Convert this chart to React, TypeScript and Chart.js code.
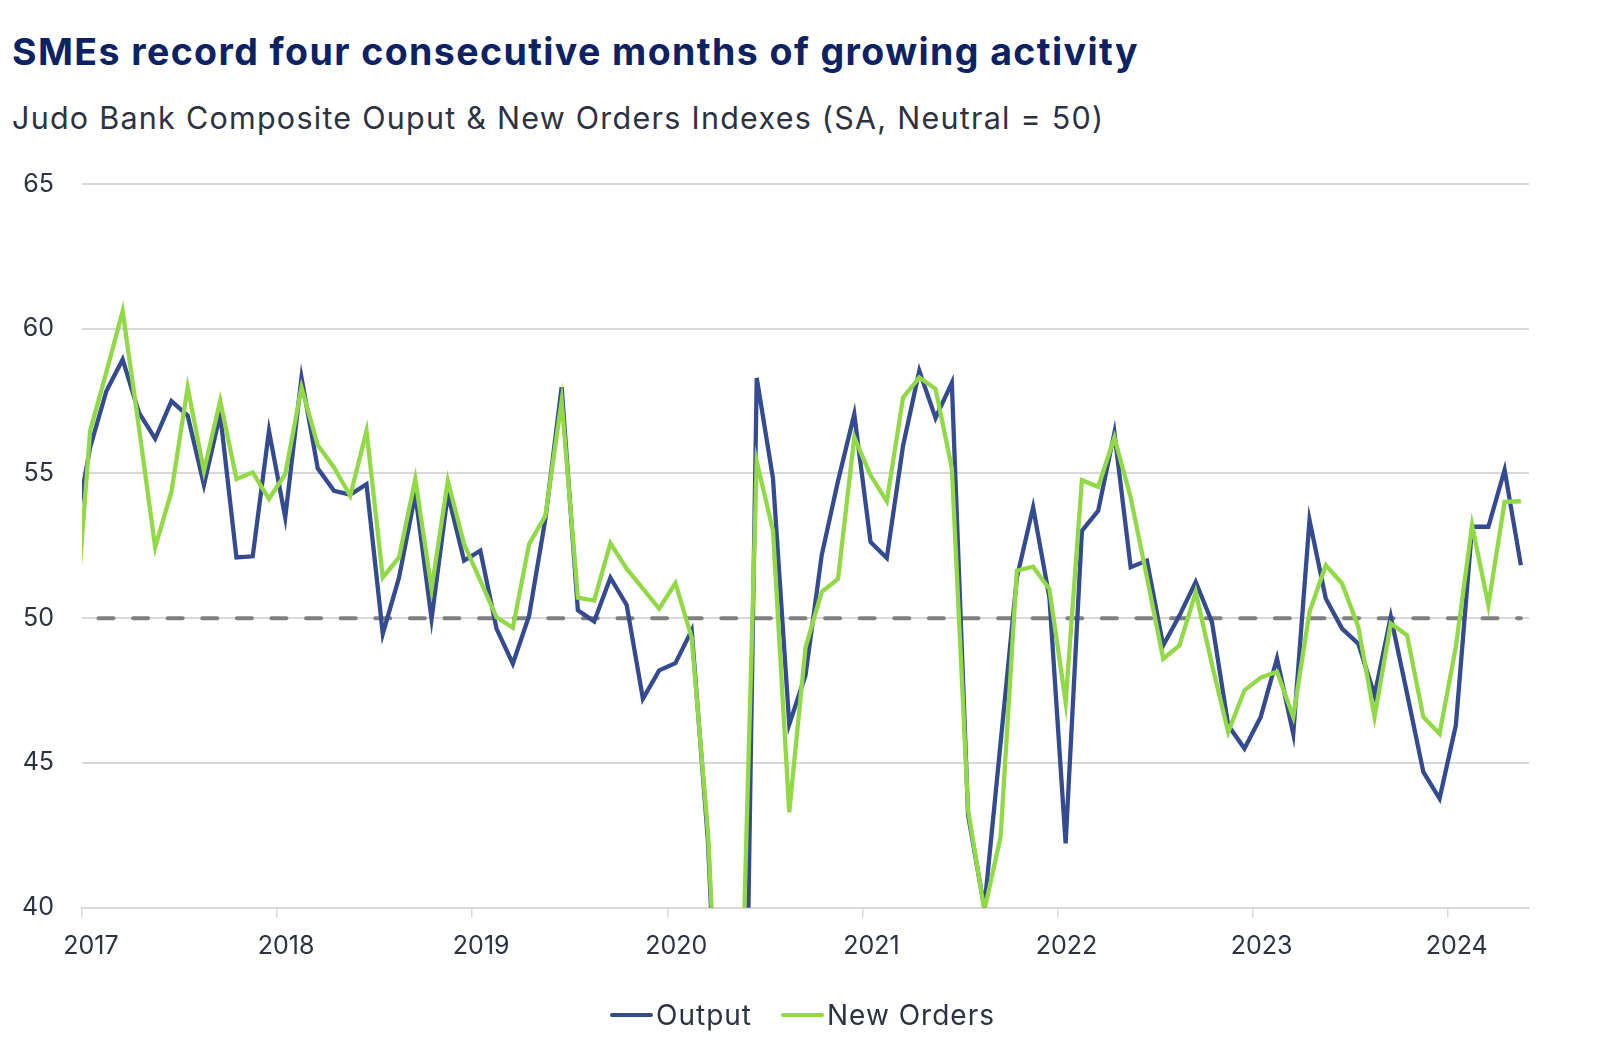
import React, { useEffect, useRef } from "react";
import { Chart, registerables } from "chart.js";

Chart.register(...registerables);

// Monthly observations, Dec 2016 (just left of the axis start, clipped) to May 2024
const firstYear = 2016;
const firstMonth = 12;
const monthCount = 90;
const months: string[] = [];
for (let k = 0; k < monthCount; k++) {
  const t = firstMonth - 1 + k;
  const y = firstYear + Math.floor(t / 12);
  const m = (t % 12) + 1;
  months.push(`${y}-${String(m).padStart(2, "0")}`);
}

const output = [
  52.8,
  55.9, 57.85, 58.94, 57.1, 56.2, 57.5, 57.0, 54.6, 57.05, 52.1, 52.14, 56.47,
  53.48, 58.31, 55.18, 54.4, 54.27, 54.63, 49.46, 51.41, 54.29, 49.98, 54.29, 51.99,
  52.33, 49.63, 48.43, 50.09, 53.43, 57.98, 50.27, 49.89, 51.4, 50.46, 47.22, 48.2,
  48.45, 49.58, 42.3, 30.0, 22.5, 58.3, 54.83, 46.33, 48.03, 52.19, 54.74, 57.05,
  52.63, 52.08, 55.96, 58.55, 56.92, 58.13, 43.2, 40.0, 45.7, 51.4, 53.83, 50.72,
  42.22, 53.02, 53.71, 56.41, 51.76, 51.99, 49.06, 50.09, 51.25, 49.87, 46.3, 45.5,
  46.59, 48.61, 46.01, 53.39, 50.68, 49.64, 49.12, 47.34, 50.05, 47.4, 44.69, 43.77,
  46.3, 53.16, 53.16, 55.12, 51.83,
];

const newOrders = [
  49.05,
  56.47, 58.5, 60.61, 56.6, 52.45, 54.37, 57.97, 55.09, 57.51, 54.81, 55.04, 54.12,
  54.98, 57.97, 55.98, 55.21, 54.23, 56.47, 51.41, 52.1, 54.81, 51.01, 54.75, 52.56,
  51.3, 50.03, 49.67, 52.56, 53.54, 57.5, 50.71, 50.61, 52.59, 51.71, 51.02, 50.33,
  51.21, 49.33, 42.6, 31.0, 35.0, 55.42, 53.02, 43.3, 48.99, 50.91, 51.36, 56.25,
  54.94, 54.04, 57.62, 58.32, 57.92, 55.19, 43.37, 39.9, 42.45, 51.64, 51.78, 51.01,
  47.1, 54.77, 54.54, 56.24, 54.17, 51.41, 48.6, 49.06, 50.9, 48.4, 46.07, 47.51,
  47.95, 48.15, 46.59, 50.22, 51.83, 51.2, 49.7, 46.59, 49.82, 49.41, 46.59, 46.01,
  49.01, 53.21, 50.45, 54.02, 54.04,
];

const yearLabels = ["2017", "2018", "2019", "2020", "2021", "2022", "2023", "2024"];
const neutralLevel = 50;
const axisStartYear = 2017;

const BLUE = "#344a91";
const GREEN = "#92d946";
const TEXT = "#2c3242";
const NAVY = "#0c2262";
const GRID = "#d9d9d9";
const FONT = "Inter, 'Noto Sans', sans-serif";

// months since Jan 2017, points centred in their month
function monthPos(label: string): number {
  const [y, m] = label.split("-").map(Number);
  return (y - axisStartYear) * 12 + (m - 1) + 0.5;
}

export default function App() {
  const ref = useRef<HTMLCanvasElement>(null);

  useEffect(() => {
    const canvas = ref.current;
    if (!canvas) return;
    const pts = (vals: number[]) => months.map((m, k) => ({ x: monthPos(m), y: vals[k] }));
    const chart = new Chart(canvas, {
      type: "line",
      data: {
        datasets: [
          {
            label: "Output",
            data: pts(output),
            borderColor: BLUE,
            backgroundColor: BLUE,
            borderWidth: 4.3,
            pointRadius: 0,
            tension: 0,
            order: 2,
          },
          {
            label: "New Orders",
            data: pts(newOrders),
            borderColor: GREEN,
            backgroundColor: GREEN,
            borderWidth: 4.3,
            pointRadius: 0,
            tension: 0,
            order: 1,
          },
          {
            label: "Neutral",
            data: months.map((m) => ({ x: monthPos(m), y: neutralLevel })),
            borderColor: "#7f7f7f",
            borderWidth: 4,
            borderDash: [15, 19.6],
            borderDashOffset: 10,
            borderCapStyle: "round",
            pointRadius: 0,
            order: 3,
          },
        ],
      },
      options: {
        responsive: false,
        animation: false,
        devicePixelRatio: 1,
        layout: { padding: { top: 0, right: 71, bottom: 0, left: 0 } },
        plugins: {
          legend: { display: false },
          tooltip: { enabled: false },
        },
        scales: {
          x: {
            type: "linear",
            min: 0,
            max: 89,
            afterFit: (s: any) => {
              s.height = 92.3;
            },
            ticks: {
              stepSize: 12,
              includeBounds: false,
              autoSkip: false,
              maxRotation: 0,
              labelOffset: 9,
              padding: 14,
              color: TEXT,
              font: { family: FONT, size: 25 },
              callback: (v: any) => {
                const idx = Math.round(Number(v) / 12);
                return Number(v) % 12 === 0 ? yearLabels[idx] ?? "" : "";
              },
            },
            grid: {
              display: true,
              drawOnChartArea: false,
              drawTicks: true,
              tickLength: 10,
              color: GRID,
              lineWidth: 1.5,
            },
            border: { display: true, color: GRID, width: 2 },
          },
          y: {
            min: 40,
            max: 65,
            afterFit: (s: any) => {
              s.width = 82;
            },
            ticks: {
              stepSize: 5,
              padding: 28,
              color: TEXT,
              font: { family: FONT, size: 25 },
            },
            grid: { color: GRID, lineWidth: 2, drawTicks: false },
            border: { display: false },
          },
        },
      },
    } as any);
    return () => chart.destroy();
  }, []);

  const legendItem = (color: string, text: string, marginLeft: number) => (
    <div style={{ display: "flex", alignItems: "center", marginLeft }}>
      <span
        style={{
          display: "inline-block",
          width: 43,
          height: 4.5,
          borderRadius: 3,
          background: color,
          marginRight: 3,
        }}
      />
      <span>{text}</span>
    </div>
  );

  return (
    <div
      style={{
        position: "fixed",
        left: 0,
        top: 0,
        width: 1600,
        height: 1055,
        background: "#ffffff",
        overflow: "hidden",
        fontFamily: FONT,
      }}
    >
      <div
        style={{
          position: "absolute",
          left: 12,
          top: 33,
          fontSize: 37.5,
          lineHeight: "37.5px",
          fontWeight: 700,
          color: NAVY,
          letterSpacing: "1.4px",
          whiteSpace: "nowrap",
        }}
      >
        SMEs record four consecutive months of growing activity
      </div>
      <div
        style={{
          position: "absolute",
          left: 12,
          top: 102.5,
          fontSize: 30.5,
          lineHeight: "30.5px",
          color: TEXT,
          letterSpacing: "1.25px",
          whiteSpace: "nowrap",
        }}
      >
        Judo Bank Composite Ouput &amp; New Orders Indexes (SA, Neutral = 50)
      </div>
      <canvas
        ref={ref}
        width={1600}
        height={859}
        style={{ position: "absolute", left: 0, top: 141, width: 1600, height: 859 }}
      />
      <div
        style={{
          position: "absolute",
          left: 610,
          top: 1000,
          height: 30,
          display: "flex",
          alignItems: "center",
          fontSize: 28,
          letterSpacing: "1px",
          color: TEXT,
          whiteSpace: "nowrap",
        }}
      >
        {legendItem(BLUE, "Output", 0)}
        {legendItem(GREEN, "New Orders", 29)}
      </div>
    </div>
  );
}
